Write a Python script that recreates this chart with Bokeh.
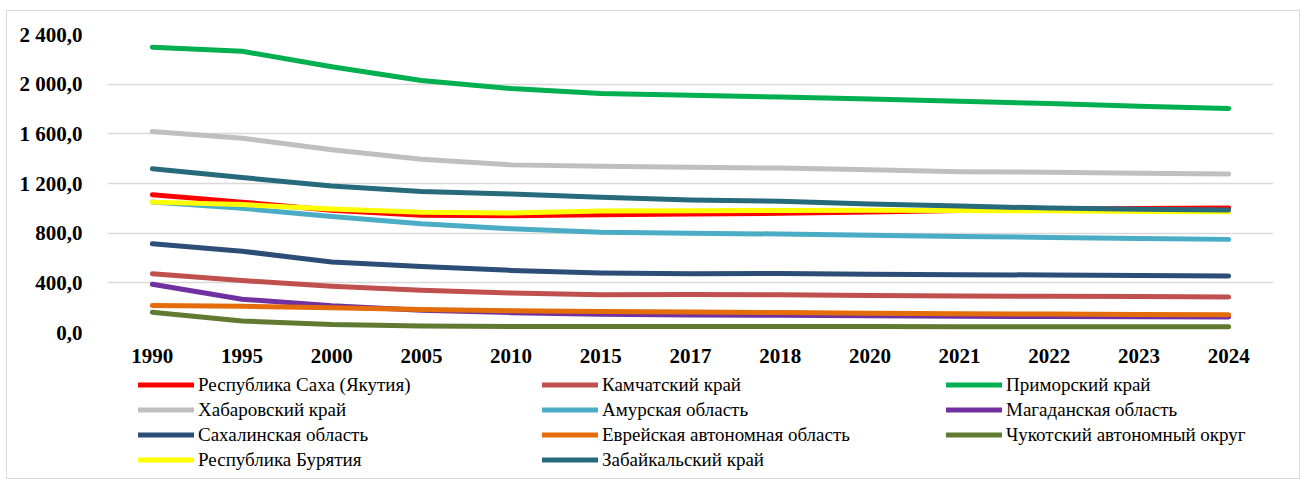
from bokeh.plotting import figure
from bokeh.layouts import column
from bokeh.models import (FactorRange, Range1d, Legend, LegendItem, FixedTicker,
                          CustomJSTickFormatter)
from bokeh.embed import file_html
from bokeh.resources import INLINE

years = ["1990", "1995", "2000", "2005", "2010", "2015", "2017", "2018",
         "2020", "2021", "2022", "2023", "2024"]

names = ["Республика Саха (Якутия)", "Камчатский край", "Приморский край",
         "Хабаровский край", "Амурская область", "Магаданская область",
         "Сахалинская область", "Еврейская автономная область",
         "Чукотский автономный округ", "Республика Бурятия", "Забайкальский край"]

sakha = [1110, 1050, 985, 945, 940, 948, 955, 960, 970, 982, 993, 998, 1002]
kamchatka = [474, 418, 372, 341, 318, 305, 306, 304, 297, 294, 292, 289, 286]
primorye = [2298, 2265, 2140, 2030, 1965, 1925, 1910, 1897, 1880, 1862, 1845, 1822, 1805]
khabarovsk = [1618, 1565, 1472, 1395, 1350, 1338, 1330, 1324, 1310, 1295, 1290, 1282, 1276]
amur = [1050, 1000, 935, 876, 836, 808, 800, 793, 783, 774, 766, 758, 750]
magadan = [388, 268, 215, 180, 160, 146, 140, 138, 134, 131, 129, 127, 125]
sakhalin = [714, 655, 567, 532, 500, 480, 474, 476, 469, 466, 463, 459, 456]
jewish = [218, 212, 200, 186, 176, 170, 165, 161, 155, 151, 148, 145, 143]
chukotka = [163, 93, 64, 52, 49, 48, 48, 48, 48, 47, 47, 47, 47]
buryatia = [1050, 1030, 995, 968, 962, 978, 980, 982, 985, 983, 980, 975, 972]
zabaikalsky = [1318, 1248, 1180, 1135, 1115, 1090, 1068, 1058, 1035, 1018, 1002, 993, 987]

series = [sakha, kamchatka, primorye, khabarovsk, amur, magadan, sakhalin,
          jewish, chukotka, buryatia, zabaikalsky]
colors = ["#FF0000", "#C0504D", "#00B050", "#BFBFBF", "#4BACC6", "#7030A0",
          "#2C4D75", "#E46C0A", "#617A32", "#FFFF00", "#276A7C"]

y_ticks = [0, 400, 800, 1200, 1600, 2000, 2400]

# ---- main chart ----
p = figure(x_range=FactorRange(*years, range_padding=0),
           y_range=Range1d(0, 2400),
           width=1292, height=355,
           min_border_left=100, min_border_right=26, min_border_top=23,
           min_border_bottom=34,
           output_backend="svg", toolbar_location=None)
p.outline_line_color = None
p.background_fill_color = "white"
p.border_fill_color = "white"

p.xgrid.grid_line_color = None
p.ygrid.grid_line_color = "#D9D9D9"
p.ygrid.grid_line_width = 1.5
p.yaxis.ticker = FixedTicker(ticks=y_ticks)
p.yaxis.formatter = CustomJSTickFormatter(code="""
const s = tick.toFixed(1).split('.');
s[0] = s[0].replace(/\\B(?=(\\d{3})+(?!\\d))/g, ' ');
return s.join(',');
""")

for ax in (p.xaxis[0], p.yaxis[0]):
    ax.axis_line_color = None
    ax.major_tick_line_color = None
    ax.minor_tick_line_color = None
    ax.major_label_text_font = "Liberation Serif"
    ax.major_label_text_font_style = "bold"
    ax.major_label_text_font_size = "21px"
    ax.major_label_text_color = "black"
p.yaxis.major_label_standoff = 19
p.xaxis.major_label_standoff = 10

for name, vals, col in zip(names, series, colors):
    p.line(years, vals, line_color=col, line_width=5,
           line_cap="round", line_join="round")

# ---- legend strip (its frame is aligned with the chart's frame) ----
lg = figure(width=1292, height=112, min_border=0,
            x_range=Range1d(0, 1), y_range=Range1d(0, 1),
            x_axis_location=None, y_axis_location=None,
            output_backend="svg", toolbar_location=None)
lg.outline_line_color = None
lg.grid.visible = False
lg.background_fill_color = "white"
lg.border_fill_color = "white"

items = []
for name, col in zip(names, colors):
    r = lg.line([-5, -4], [-5, -4], line_color=col, line_width=5,
                line_cap="round", line_join="round")
    items.append(LegendItem(label=name, renderers=[r]))

legend = Legend(items=items, orientation="horizontal", ncols=3,
                location=(31, 6),
                glyph_width=56, glyph_height=25, label_height=25,
                label_width=344, label_standoff=4, spacing=0,
                padding=0, margin=0, border_line_color=None,
                background_fill_alpha=0,
                label_text_font="Liberation Serif",
                label_text_font_size="19px", label_text_color="black")
lg.add_layout(legend, "center")

layout = column(p, lg, spacing=0,
                styles={"border": "1px solid #D9D9D9", "margin-left": "6px",
                        "margin-top": "10px", "background": "white"})

open("out.html", "w").write(file_html(layout, INLINE))
